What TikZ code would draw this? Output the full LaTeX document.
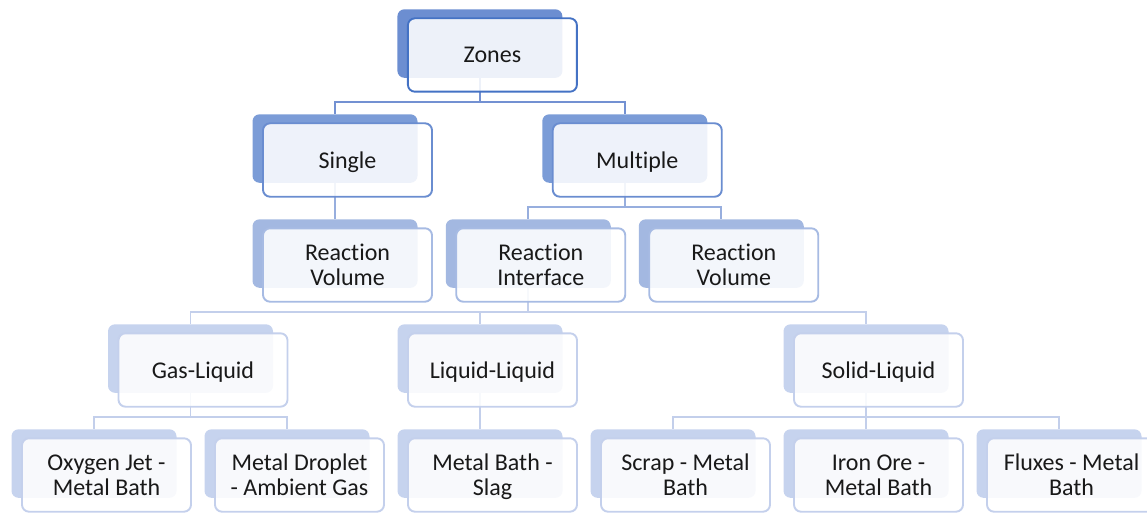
\documentclass[tikz,border=0pt]{standalone}
\usepackage{fontspec}
\setmainfont{Carlito}[Ligatures=NoCommon]
\usepackage{xcolor}
\usetikzlibrary{calc}

\pgfdeclarelayer{links}
\pgfsetlayers{links,main}

\definecolor{backA}{HTML}{6C8ED1}
\definecolor{lineA}{HTML}{4472C4}
\definecolor{backB}{HTML}{7B9CD7}
\definecolor{lineB}{HTML}{6A8DD0}
\definecolor{backC}{HTML}{A3B8E1}
\definecolor{lineC}{HTML}{A7BBE3}
\definecolor{backD}{HTML}{C6D3EE}
\definecolor{lineD}{HTML}{C4D0EC}
\definecolor{linkB}{HTML}{7391D2}
\definecolor{linkC}{HTML}{97AEDE}
\definecolor{linkD}{HTML}{C3CFEB}

% shadow card behind, labelled card in front
\newcommand{\zonecard}[5]{%
    \node[shade, fill=back#4] (b-#1) at ({#2},{-43.55-105*#3}) {};
    \node[face, draw=line#4] (#1) at ($(b-#1)+(12.5,-11.45)$) {#5};
}

\begin{document}
\begin{tikzpicture}[x=1pt,y=1pt,
        shade/.style={rectangle, rounded corners=7pt, inner sep=0pt,
            minimum width=165pt, minimum height=68.5pt},
        face/.style={rectangle, rounded corners=7pt, inner sep=0pt,
            minimum width=169pt, minimum height=73.4pt, line width=1.9pt,
            fill=white, fill opacity=0.88, text opacity=1, align=center,
            text depth=0pt, font=\fontsize{24}{25}\selectfont, text=black!90},
        link/.style={line width=1.7pt}]
            \useasboundingbox (0,0) rectangle (1147,-513);

            \zonecard{zones}{479.9}{0}{A}{Zones}
            \zonecard{single}{335}{1}{B}{Single}
            \zonecard{multiple}{624.75}{1}{B}{Multiple}
            \zonecard{rvs}{335}{2}{C}{Reaction\\Volume}
            \zonecard{ri}{528.25}{2}{C}{Reaction\\Interface}
            \zonecard{rvm}{721.25}{2}{C}{Reaction\\Volume}
            \zonecard{gl}{190.5}{3}{D}{Gas-Liquid}
            \zonecard{ll}{480}{3}{D}{Liquid-Liquid}
            \zonecard{sl}{866}{3}{D}{Solid-Liquid}
            \zonecard{oj}{94}{4}{D}{Oxygen Jet -\\Metal Bath}
            \zonecard{md}{287}{4}{D}{Metal Droplet\\- Ambient Gas}
            \zonecard{mbs}{480}{4}{D}{Metal Bath -\\Slag}
            \zonecard{sm}{673}{4}{D}{Scrap - Metal\\Bath}
            \zonecard{io}{866}{4}{D}{Iron Ore -\\Metal Bath}
            \zonecard{fm}{1059}{4}{D}{Fluxes - Metal\\Bath}

            \begin{pgfonlayer}{links}
            \foreach \p/\c in {zones/single, zones/multiple}
                \draw[link, color=linkB] (b-\p.south) -- ++(0,-24) -| (b-\c.north);
            \foreach \p/\c in {single/rvs, multiple/ri, multiple/rvm}
                \draw[link, color=linkC] (b-\p.south) -- ++(0,-24) -| (b-\c.north);
            \foreach \p/\c in {ri/gl, ri/ll, ri/sl, gl/oj, gl/md, ll/mbs, sl/sm, sl/io, sl/fm}
                \draw[link, color=linkD] (b-\p.south) -- ++(0,-24) -| (b-\c.north);
            \end{pgfonlayer}
        \end{tikzpicture}
\end{document}
